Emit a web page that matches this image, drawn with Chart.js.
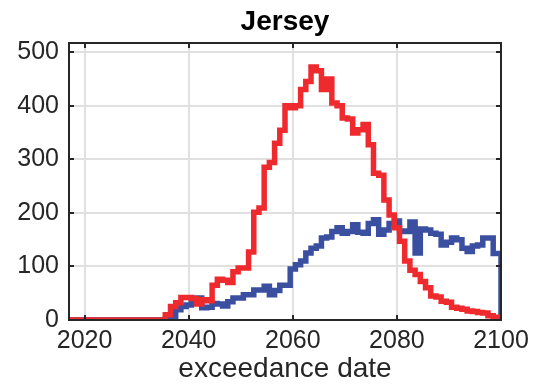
<!DOCTYPE html>
<html>
<head>
<meta charset="utf-8">
<script src="https://cdn.jsdelivr.net/npm/chart.js@4/dist/chart.umd.min.js"></script>
<style>
  html, body { margin: 0; padding: 0; background: #ffffff; }
  canvas { display: block; }
</style>
</head>
<body>
<canvas id="chart" width="539" height="389"></canvas>
<script>
// Yearly bins of exceedance dates (one value per year, 2017–2100)
const years = [
  2017, 2018, 2019, 2020, 2021, 2022, 2023, 2024, 2025, 2026,
  2027, 2028, 2029, 2030, 2031, 2032, 2033, 2034, 2035, 2036,
  2037, 2038, 2039, 2040, 2041, 2042, 2043, 2044, 2045, 2046,
  2047, 2048, 2049, 2050, 2051, 2052, 2053, 2054, 2055, 2056,
  2057, 2058, 2059, 2060, 2061, 2062, 2063, 2064, 2065, 2066,
  2067, 2068, 2069, 2070, 2071, 2072, 2073, 2074, 2075, 2076,
  2077, 2078, 2079, 2080, 2081, 2082, 2083, 2084, 2085, 2086,
  2087, 2088, 2089, 2090, 2091, 2092, 2093, 2094, 2095, 2096,
  2097, 2098, 2099, 2100
];

const redCounts = [
  0, 0, 0, 0, 0, 0, 0, 0, 0, 0,
  0, 0, 0, 0, 0, 0, 0, 0, 0, 10,
  25, 32, 42, 42, 40, 30, 38, 36, 65, 76,
  74, 70, 90, 97, 97, 127, 201, 209, 285, 294,
  330, 354, 400, 396, 400, 430, 445, 472, 465, 430,
  450, 405, 400, 377, 375, 349, 355, 365, 327, 274,
  270, 224, 196, 172, 147, 110, 93, 85, 72, 60,
  45, 43, 35, 33, 24, 22, 20, 17, 16, 14,
  13, 8, 5, 2
];

const blueCounts = [
  0, 0, 0, 0, 0, 0, 0, 0, 0, 0,
  0, 0, 0, 0, 0, 0, 0, 0, 0, 2,
  6, 19, 25, 28, 40, 41, 23, 24, 31, 30,
  26, 34, 41, 41, 47, 47, 56, 56, 63, 47,
  55, 65, 65, 95, 103, 110, 125, 134, 138, 153,
  155, 165, 172, 162, 165, 178, 164, 162, 180, 187,
  160, 168, 180, 185, 166, 165, 183, 125, 170, 168,
  162, 160, 140, 145, 153, 150, 134, 128, 138, 140,
  153, 153, 124, 124
];

const xTickValues = [2020, 2040, 2060, 2080, 2100];
const yTickValues = [0, 100, 200, 300, 400, 500];
const chartTitle = 'Jersey';

// Turn a count list into stepped points that close down to zero at the last year
function toSteps(counts) {
  const pts = years.map((yr, i) => ({ x: yr, y: counts[i] }));
  pts.push({ x: years[years.length - 1], y: 0 });
  return pts;
}

const FONT = '"Liberation Sans", Arial, Helvetica, sans-serif';
const INK = '#262626';

// Closed axis box with short inward tick marks on all four sides,
// plus the title centred over the plot area
const boxAndTicks = {
  id: 'boxAndTicks',
  afterDraw(chart) {
    const { ctx, chartArea: a, scales } = chart;
    const len = 5;
    ctx.save();
    ctx.strokeStyle = INK;
    ctx.lineWidth = 2;
    ctx.beginPath();
    scales.x.ticks.forEach(t => {
      const px = Math.round(scales.x.getPixelForValue(t.value));
      ctx.moveTo(px, a.bottom); ctx.lineTo(px, a.bottom - len);
      ctx.moveTo(px, a.top); ctx.lineTo(px, a.top + len);
    });
    scales.y.ticks.forEach(t => {
      const py = Math.round(scales.y.getPixelForValue(t.value));
      ctx.moveTo(a.left, py); ctx.lineTo(a.left + len, py);
      ctx.moveTo(a.right, py); ctx.lineTo(a.right - len, py);
    });
    ctx.stroke();
    ctx.strokeRect(a.left, a.top, a.right - a.left, a.bottom - a.top);

    ctx.fillStyle = '#000000';
    ctx.font = 'bold 28px ' + FONT;
    ctx.textAlign = 'center';
    ctx.textBaseline = 'middle';
    ctx.fillText(chartTitle, (a.left + a.right) / 2, 22);
    ctx.restore();
  }
};

new Chart(document.getElementById('chart'), {
  type: 'line',
  data: {
    datasets: [
      {
        label: 'red',
        data: toSteps(redCounts),
        stepped: 'middle',
        borderColor: '#ee2a2e',
        borderWidth: 5.5,
        pointRadius: 0,
        fill: false,
        borderJoinStyle: 'miter',
        borderCapStyle: 'butt'
      },
      {
        label: 'blue',
        data: toSteps(blueCounts),
        stepped: 'middle',
        borderColor: '#3a4fa0',
        borderWidth: 5.5,
        pointRadius: 0,
        fill: false,
        borderJoinStyle: 'miter',
        borderCapStyle: 'butt'
      }
    ]
  },
  options: {
    responsive: false,
    animation: false,
    devicePixelRatio: 1,
    layout: { padding: { left: 0, right: 38, top: 43, bottom: 0 } },
    plugins: {
      legend: { display: false },
      tooltip: { enabled: false },
      title: { display: false }
    },
    scales: {
      x: {
        type: 'linear',
        min: 2017,
        max: 2100,
        afterBuildTicks: s => { s.ticks = xTickValues.map(v => ({ value: v })); },
        afterFit: s => { s.height = 69; },
        grid: { color: '#e0e0e0', lineWidth: 2, drawTicks: false },
        border: { display: false },
        ticks: {
          color: INK,
          font: { family: FONT, size: 25 },
          padding: 6,
          maxRotation: 0,
          autoSkip: false,
          callback: v => String(v)
        },
        title: {
          display: true,
          text: 'exceedance date',
          color: INK,
          font: { family: FONT, size: 28 },
          padding: { top: 0, bottom: 3 }
        }
      },
      y: {
        type: 'linear',
        min: 0,
        max: 517,
        afterBuildTicks: s => { s.ticks = yTickValues.map(v => ({ value: v })); },
        afterFit: s => { s.width = 69; },
        grid: { color: '#e0e0e0', lineWidth: 2, drawTicks: false },
        border: { display: false },
        ticks: {
          color: INK,
          font: { family: FONT, size: 25 },
          padding: 10,
          autoSkip: false,
          callback: v => String(v)
        }
      }
    }
  },
  plugins: [boxAndTicks]
});
</script>
</body>
</html>
